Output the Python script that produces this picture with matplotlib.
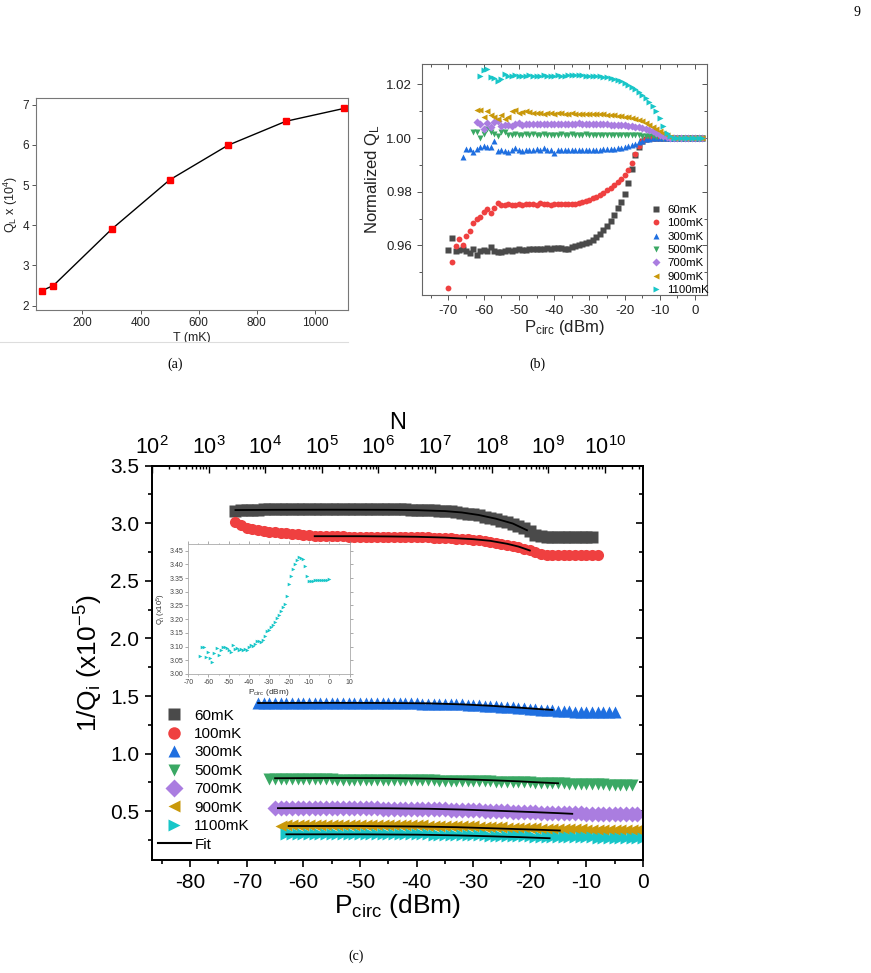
import numpy as np
import matplotlib
matplotlib.use('Agg')
import matplotlib.pyplot as plt
from matplotlib.ticker import MultipleLocator, LogLocator, NullFormatter, FormatStrFormatter
from matplotlib.lines import Line2D
from matplotlib.patches import Rectangle

plt.rcParams['font.family'] = ['Liberation Sans', 'DejaVu Sans']
plt.rcParams['mathtext.fontset'] = 'custom'
plt.rcParams['mathtext.rm'] = 'Liberation Sans'
plt.rcParams['mathtext.it'] = 'Liberation Sans:italic'
plt.rcParams['mathtext.default'] = 'regular'
plt.rcParams['axes.unicode_minus'] = False

# ---------------- data ----------------
# (a) loaded Q vs temperature
T_mK = [60, 100, 300, 500, 700, 900, 1100]
QL_1e4 = [2.37, 2.50, 3.90, 5.13, 5.99, 6.59, 6.91]

labels = ['60mK', '100mK', '300mK', '500mK', '700mK', '900mK', '1100mK']
colors = ['#4a4a4a', '#ef4040', '#1f6fe0', '#3aa864', '#aa7de0', '#c9980a', '#18c6c8']
markers = ['s', 'o', '^', 'v', 'D', '<', '>']

# (b) normalized QL vs Pcirc, first power of each sweep (1 dBm steps)
b_start = [-70, -70, -66, -63, -62, -62, -61]
b_60 = [0.9582, 0.9628, 0.9580, 0.9581, 0.9586, 0.9578, 0.9572, 0.9586, 0.9565, 0.9580,
        0.9583, 0.9580, 0.9593, 0.9580, 0.9575, 0.9576, 0.9580, 0.9582, 0.9580, 0.9582,
        0.9585, 0.9583, 0.9583, 0.9585, 0.9588, 0.9585, 0.9586, 0.9588, 0.9592, 0.9588,
        0.9590, 0.9590, 0.9589, 0.9588, 0.9587, 0.9594, 0.9598, 0.9601, 0.9604, 0.9607,
        0.9612, 0.9620, 0.9630, 0.9643, 0.9657, 0.9672, 0.9690, 0.9712, 0.9740, 0.9762,
        0.9790, 0.9832, 0.9885, 0.9935, 0.9965, 0.9988, 0.9998, 1.0000, 1.0000, 1.0000,
        1.0000, 1.0000, 1.0000, 1.0000, 1.0000, 1.0000, 1.0000, 1.0000, 1.0000, 1.0000,
        1.0000, 1.0000, 1.0000]
b_100 = [0.9440, 0.9537, 0.9598, 0.9623, 0.9600, 0.9636, 0.9654, 0.9685, 0.9697, 0.9705,
         0.9726, 0.9736, 0.9720, 0.9738, 0.9757, 0.9752, 0.9751, 0.9753, 0.9752, 0.9750,
         0.9753, 0.9752, 0.9754, 0.9755, 0.9753, 0.9751, 0.9757, 0.9755, 0.9753, 0.9752,
         0.9754, 0.9753, 0.9754, 0.9753, 0.9755, 0.9754, 0.9756, 0.9759, 0.9762, 0.9766,
         0.9770, 0.9775, 0.9781, 0.9788, 0.9796, 0.9805, 0.9815, 0.9825, 0.9835, 0.9848,
         0.9862, 0.9880, 0.9908, 0.9940, 0.9970, 0.9990, 0.9998, 1.0000, 1.0000, 1.0000,
         1.0000, 1.0000, 1.0000, 1.0000, 1.0000, 1.0000, 1.0000, 1.0000, 1.0000, 1.0000,
         1.0000, 1.0000, 1.0000]
b_300 = [0.9930, 0.9958, 0.9961, 0.9948, 0.9961, 0.9965, 0.9971, 0.9965, 0.9966, 0.9988,
         0.9952, 0.9957, 0.9953, 0.9947, 0.9955, 0.9962, 0.9955, 0.9952, 0.9956, 0.9954,
         0.9957, 0.9958, 0.9955, 0.9962, 0.9957, 0.9955, 0.9946, 0.9954, 0.9956, 0.9955,
         0.9954, 0.9956, 0.9955, 0.9956, 0.9957, 0.9955, 0.9956, 0.9957, 0.9956, 0.9957,
         0.9958, 0.9958, 0.9960, 0.9961, 0.9962, 0.9964, 0.9966, 0.9969, 0.9973, 0.9978,
         0.9984, 0.9990, 0.9995, 0.9998, 1.0000, 1.0000, 1.0000, 1.0000, 1.0000, 1.0000,
         1.0000, 1.0000, 1.0000, 1.0000, 1.0000, 1.0000, 1.0000, 1.0000, 1.0000]
b_500 = [1.0023, 1.0021, 1.0001, 1.0015, 1.0032, 1.0023, 1.0015, 1.0007, 1.0021, 1.0024,
         1.0010, 1.0012, 1.0016, 1.0010, 1.0013, 1.0014, 1.0012, 1.0015, 1.0013, 1.0012,
         1.0014, 1.0011, 1.0013, 1.0012, 1.0013, 1.0014, 1.0012, 1.0013, 1.0014, 1.0013,
         1.0012, 1.0013, 1.0014, 1.0013, 1.0013, 1.0012, 1.0013, 1.0013, 1.0012, 1.0013,
         1.0012, 1.0012, 1.0012, 1.0011, 1.0011, 1.0011, 1.0010, 1.0010, 1.0009, 1.0008,
         1.0007, 1.0006, 1.0004, 1.0003, 1.0002, 1.0001, 1.0000, 1.0000, 1.0000, 1.0000,
         1.0000, 1.0000, 1.0000, 1.0000, 1.0000, 1.0000]
b_700 = [1.0059, 1.0054, 1.0033, 1.0056, 1.0040, 1.0058, 1.0062, 1.0045, 1.0050, 1.0048,
         1.0046, 1.0052, 1.0055, 1.0050, 1.0053, 1.0052, 1.0054, 1.0053, 1.0052, 1.0054,
         1.0053, 1.0052, 1.0053, 1.0054, 1.0053, 1.0052, 1.0054, 1.0053, 1.0054, 1.0055,
         1.0054, 1.0053, 1.0054, 1.0053, 1.0053, 1.0052, 1.0052, 1.0051, 1.0050, 1.0050,
         1.0049, 1.0048, 1.0047, 1.0046, 1.0045, 1.0043, 1.0041, 1.0038, 1.0035, 1.0030,
         1.0025, 1.0019, 1.0013, 1.0007, 1.0003, 1.0000, 1.0000, 1.0000, 1.0000, 1.0000,
         1.0000, 1.0000, 1.0000, 1.0000, 1.0000]
b_900 = [1.0104, 1.0104, 1.0080, 1.0101, 1.0085, 1.0078, 1.0072, 1.0087, 1.0070, 1.0080,
         1.0100, 1.0104, 1.0095, 1.0098, 1.0100, 1.0096, 1.0094, 1.0092, 1.0093, 1.0090,
         1.0092, 1.0093, 1.0091, 1.0092, 1.0093, 1.0091, 1.0090, 1.0092, 1.0091, 1.0090,
         1.0091, 1.0090, 1.0091, 1.0090, 1.0089, 1.0089, 1.0088, 1.0087, 1.0086, 1.0085,
         1.0083, 1.0081, 1.0079, 1.0077, 1.0074, 1.0071, 1.0067, 1.0062, 1.0056, 1.0050,
         1.0043, 1.0035, 1.0026, 1.0018, 1.0010, 1.0004, 1.0000, 1.0000, 1.0000, 1.0000,
         1.0000, 1.0000, 1.0000, 1.0000, 1.0000]
b_1100 = [1.0230, 1.0255, 1.0258, 1.0229, 1.0223, 1.0214, 1.0220, 1.0237, 1.0232, 1.0230,
          1.0234, 1.0231, 1.0233, 1.0232, 1.0234, 1.0233, 1.0232, 1.0233, 1.0234, 1.0233,
          1.0232, 1.0233, 1.0234, 1.0233, 1.0233, 1.0234, 1.0235, 1.0234, 1.0235, 1.0234,
          1.0233, 1.0233, 1.0232, 1.0231, 1.0230, 1.0228, 1.0226, 1.0223, 1.0220, 1.0216,
          1.0211, 1.0205, 1.0198, 1.0190, 1.0181, 1.0172, 1.0162, 1.0150, 1.0136, 1.0120,
          1.0100, 1.0073, 1.0044, 1.0020, 1.0007, 1.0000, 1.0000, 1.0000, 1.0000, 1.0000,
          1.0000, 1.0000, 1.0000, 1.0000]
b_series = [b_60, b_100, b_300, b_500, b_700, b_900, b_1100]

# (c) 1/Qi (x1e-5) vs Pcirc, first power of each sweep (1 dBm steps)
c_start = [-72, -72, -68, -66, -65, -64, -63]
c_60 = [3.110, 3.114, 3.117, 3.118, 3.119, 3.120, 3.121, 3.122, 3.124, 3.125,
        3.126, 3.127, 3.128, 3.127, 3.126, 3.126, 3.125, 3.125, 3.126, 3.125,
        3.124, 3.124, 3.125, 3.124, 3.124, 3.123, 3.123, 3.122, 3.122, 3.121,
        3.120, 3.119, 3.118, 3.117, 3.115, 3.113, 3.110, 3.107, 3.103, 3.098,
        3.092, 3.085, 3.077, 3.068, 3.058, 3.047, 3.035, 3.022, 3.008, 2.993,
        2.977, 2.958, 2.935, 2.902, 2.888, 2.885, 2.884, 2.884, 2.883, 2.884,
        2.884, 2.883, 2.884, 2.884]
c_100 = [3.014, 2.982, 2.960, 2.948, 2.940, 2.933, 2.928, 2.923, 2.918, 2.913,
         2.908, 2.904, 2.900, 2.897, 2.894, 2.891, 2.889, 2.887, 2.886, 2.886,
         2.885, 2.885, 2.885, 2.885, 2.884, 2.884, 2.884, 2.883, 2.883, 2.882,
         2.881, 2.880, 2.879, 2.878, 2.877, 2.876, 2.874, 2.872, 2.870, 2.867,
         2.864, 2.860, 2.856, 2.851, 2.845, 2.838, 2.830, 2.822, 2.813, 2.803,
         2.792, 2.780, 2.767, 2.750, 2.735, 2.729, 2.727, 2.726, 2.726, 2.725,
         2.725, 2.726, 2.725, 2.725, 2.726]
c_300 = [1.437, 1.438, 1.437, 1.438, 1.438, 1.437, 1.438, 1.437, 1.438, 1.438,
         1.437, 1.438, 1.437, 1.437, 1.438, 1.437, 1.437, 1.438, 1.437, 1.437,
         1.438, 1.437, 1.437, 1.437, 1.437, 1.437, 1.436, 1.436, 1.436, 1.435,
         1.435, 1.434, 1.433, 1.432, 1.431, 1.429, 1.427, 1.425, 1.423, 1.420,
         1.417, 1.414, 1.411, 1.408, 1.405, 1.401, 1.397, 1.394, 1.390, 1.386,
         1.383, 1.380, 1.376, 1.372, 1.369, 1.367, 1.366, 1.366, 1.365, 1.365,
         1.365, 1.364, 1.365, 1.364]
c_500 = [0.780, 0.779, 0.779, 0.778, 0.778, 0.778, 0.777, 0.777, 0.777, 0.776,
         0.776, 0.776, 0.775, 0.775, 0.775, 0.774, 0.774, 0.774, 0.773, 0.773,
         0.772, 0.772, 0.771, 0.771, 0.770, 0.770, 0.769, 0.769, 0.768, 0.768,
         0.767, 0.766, 0.765, 0.765, 0.764, 0.763, 0.762, 0.761, 0.760, 0.759,
         0.758, 0.757, 0.756, 0.755, 0.753, 0.752, 0.750, 0.749, 0.748, 0.746,
         0.745, 0.743, 0.742, 0.740, 0.739, 0.738, 0.736, 0.735, 0.734, 0.733,
         0.732, 0.731, 0.730, 0.729, 0.728]
c_700 = [0.526, 0.527, 0.527, 0.528, 0.527, 0.527, 0.528, 0.527, 0.527, 0.527,
         0.526, 0.527, 0.527, 0.526, 0.526, 0.526, 0.525, 0.525, 0.525, 0.524,
         0.524, 0.523, 0.523, 0.522, 0.522, 0.521, 0.520, 0.519, 0.518, 0.517,
         0.516, 0.515, 0.513, 0.512, 0.510, 0.509, 0.507, 0.506, 0.504, 0.502,
         0.501, 0.499, 0.497, 0.496, 0.494, 0.492, 0.491, 0.489, 0.488, 0.486,
         0.485, 0.484, 0.483, 0.482, 0.481, 0.480, 0.479, 0.479, 0.478, 0.478,
         0.477, 0.477, 0.476, 0.476, 0.476]
c_900 = [0.376, 0.377, 0.377, 0.378, 0.378, 0.378, 0.379, 0.379, 0.379, 0.379,
         0.380, 0.380, 0.380, 0.380, 0.380, 0.380, 0.380, 0.380, 0.380, 0.379,
         0.379, 0.379, 0.378, 0.378, 0.377, 0.377, 0.376, 0.375, 0.374, 0.373,
         0.372, 0.371, 0.370, 0.369, 0.368, 0.366, 0.365, 0.364, 0.362, 0.361,
         0.359, 0.358, 0.356, 0.355, 0.353, 0.352, 0.350, 0.349, 0.348, 0.346,
         0.345, 0.344, 0.343, 0.342, 0.341, 0.340, 0.339, 0.338, 0.338, 0.337,
         0.337, 0.336, 0.336, 0.336, 0.335]
c_1100 = [0.300, 0.301, 0.301, 0.302, 0.302, 0.302, 0.303, 0.303, 0.303, 0.303,
          0.303, 0.303, 0.303, 0.303, 0.303, 0.302, 0.302, 0.302, 0.302, 0.301,
          0.301, 0.301, 0.300, 0.300, 0.299, 0.299, 0.298, 0.297, 0.297, 0.296,
          0.295, 0.294, 0.293, 0.292, 0.291, 0.290, 0.289, 0.288, 0.287, 0.286,
          0.285, 0.284, 0.283, 0.282, 0.281, 0.280, 0.279, 0.278, 0.277, 0.276,
          0.275, 0.274, 0.274, 0.273, 0.273, 0.272, 0.272, 0.271, 0.271, 0.271,
          0.270, 0.270, 0.270, 0.270]
c_series = [c_60, c_100, c_300, c_500, c_700, c_900, c_1100]

# (c) fit curves
fit_P = [[-72, -65, -55, -45, -40, -35, -32, -29, -26, -23, -20.5],
         [-58, -50, -45, -40, -35, -30, -27, -24, -22, -20],
         [-68, -55, -45, -38, -32, -27, -22, -18, -16],
         [-65, -55, -45, -38, -32, -27, -22, -18, -15],
         [-64.5, -55, -45, -38, -32, -26, -20, -15, -12.5],
         [-62.6, -50, -40, -33, -27, -22, -18, -14.7],
         [-63, -50, -40, -33, -27, -22, -16.5]]
fit_Q = [[3.115, 3.117, 3.118, 3.117, 3.114, 3.106, 3.094, 3.072, 3.040, 2.998, 2.940],
         [2.888, 2.888, 2.886, 2.883, 2.876, 2.862, 2.848, 2.822, 2.798, 2.764],
         [1.440, 1.441, 1.440, 1.437, 1.428, 1.416, 1.400, 1.386, 1.380],
         [0.787, 0.789, 0.788, 0.784, 0.778, 0.770, 0.760, 0.750, 0.743],
         [0.527, 0.528, 0.526, 0.522, 0.515, 0.505, 0.494, 0.484, 0.478],
         [0.372, 0.372, 0.368, 0.362, 0.353, 0.345, 0.339, 0.333],
         [0.300, 0.300, 0.297, 0.291, 0.283, 0.276, 0.266]]

# inset: Qi (x1e5) at 1100 mK
ins_start = -64
ins_Q = [3.067, 3.100, 3.100, 3.063, 3.079, 3.060, 3.044, 3.075, 3.094, 3.069,
         3.088, 3.097, 3.097, 3.094, 3.088, 3.082, 3.106, 3.090, 3.094, 3.088,
         3.092, 3.088, 3.090, 3.088, 3.100, 3.105, 3.103, 3.110, 3.122, 3.120,
         3.118, 3.125, 3.140, 3.155, 3.160, 3.170, 3.180, 3.190, 3.203, 3.215,
         3.228, 3.245, 3.255, 3.286, 3.328, 3.358, 3.382, 3.400, 3.414, 3.425,
         3.424, 3.418, 3.395, 3.359, 3.340, 3.340, 3.340, 3.341, 3.341, 3.341,
         3.342, 3.342, 3.343, 3.344, 3.346]

W, H = 871, 973


def box(l, t, r, b):
    return [l / W, 1 - b / H, (r - l) / W, (b - t) / H]


fig = plt.figure(figsize=(W / 100, H / 100), dpi=100)

# ---------------- (a) ----------------
axa = fig.add_axes(box(36, 98, 348, 310))
axa.plot(T_mK, QL_1e4, color='black', lw=1.0, marker='s', ms=4.5,
         mfc='#ff0000', mec='#ff0000')
axa.set_xlim(40, 1114)
axa.set_ylim(1.89, 7.17)
axa.xaxis.set_major_locator(MultipleLocator(200))
axa.yaxis.set_major_locator(MultipleLocator(1))
for s in axa.spines.values():
    s.set_color('#777777')
    s.set_linewidth(0.8)
axa.tick_params(labelsize=8.5, colors='#555555', labelcolor='#222222', length=3, width=0.7,
                pad=2)
axa.set_xlabel('T (mK)', fontsize=9, labelpad=2, color='#222222')
axa.set_ylabel('Q$_L$ x (10$^4$)', fontsize=9, labelpad=2, color='#222222')
# crop edge of the sub-image
fig.add_artist(Rectangle((0, 1 - 356 / H), 360 / W, 14 / H, transform=fig.transFigure,
                         facecolor='white', edgecolor='none', zorder=5))
fig.add_artist(Line2D([0, 348 / W], [1 - 342 / H, 1 - 342 / H], transform=fig.transFigure,
                      color='#dddddd', lw=0.8, zorder=6))

# ---------------- (b) ----------------
axb = fig.add_axes(box(421.7, 64, 706.7, 295))
for ys, x0, lab, c, m in zip(b_series, b_start, labels, colors, markers):
    xs = np.arange(x0, x0 + len(ys))
    axb.plot(xs, ys, ls='none', marker=m, ms=4.2, color=c, mec='none', label=lab)
axb.set_xlim(-77.6, 3.3)
axb.set_ylim(0.9415, 1.0276)
axb.xaxis.set_major_locator(MultipleLocator(10))
axb.xaxis.set_minor_locator(MultipleLocator(5))
axb.yaxis.set_major_locator(MultipleLocator(0.02))
axb.yaxis.set_minor_locator(MultipleLocator(0.01))
axb.yaxis.set_major_formatter(FormatStrFormatter('%.2f'))
for s in axb.spines.values():
    s.set_color('#666666')
    s.set_linewidth(0.8)
axb.tick_params(which='both', labelsize=9.5, colors='#555555', labelcolor='#222222', width=0.7)
axb.tick_params(which='major', length=3.5)
axb.tick_params(which='minor', length=2)
for sec in (axb.secondary_xaxis('top'), axb.secondary_yaxis('right')):
    sec.tick_params(which='both', direction='in', colors='#555555', width=0.7)
    sec.tick_params(which='major', length=3.5)
    sec.tick_params(which='minor', length=2)
    ax_ = sec.xaxis if sec._orientation == 'x' else sec.yaxis
    ax_.set_major_formatter(NullFormatter())
    if sec._orientation == 'x':
        ax_.set_major_locator(MultipleLocator(10))
        ax_.set_minor_locator(MultipleLocator(5))
    else:
        ax_.set_major_locator(MultipleLocator(0.02))
        ax_.set_minor_locator(MultipleLocator(0.01))
    sec.spines[:].set_visible(False)
axb.set_xlabel('P$_{circ}$ (dBm)', fontsize=12, labelpad=1, color='#222222')
axb.set_ylabel('Normalized Q$_L$', fontsize=12, labelpad=3, color='#222222')
axb.legend(loc='upper left', bbox_to_anchor=(645 / W, 1 - 199 / H),
           bbox_transform=fig.transFigure, frameon=False, fontsize=8.2,
           handlelength=1.0, handletextpad=0.45, labelspacing=0.3, borderpad=0,
           markerscale=1.0)

# ---------------- (c) ----------------
axc = fig.add_axes(box(151.7, 465.7, 643, 860))
for ys, x0, c, m in zip(c_series, c_start, colors, markers):
    xs = np.arange(x0, x0 + len(ys))
    axc.plot(xs, ys, ls='none', marker=m, ms=8.0, color=c, mec='none', zorder=2)
for fp, fq in zip(fit_P, fit_Q):
    axc.plot(fp, fq, color='black', lw=1.3, zorder=3)
axc.set_xlim(-86.8, 0)
axc.set_ylim(0.077, 3.5)
axc.xaxis.set_major_locator(MultipleLocator(10))
axc.xaxis.set_minor_locator(MultipleLocator(5))
axc.yaxis.set_major_locator(MultipleLocator(0.5))
axc.yaxis.set_minor_locator(MultipleLocator(0.25))
axc.yaxis.set_major_formatter(FormatStrFormatter('%.1f'))
for s in axc.spines.values():
    s.set_linewidth(1.3)
axc.tick_params(which='both', labelsize=15, width=1.2, pad=4)
axc.tick_params(which='major', length=5)
axc.tick_params(which='minor', length=3)
axc.set_xlabel('P$_{circ}$ (dBm)', fontsize=19, labelpad=0)
axc.set_ylabel('1/Q$_i$ (x10$^{-5}$)', fontsize=19, labelpad=4)

secr = axc.secondary_yaxis('right')
secr.yaxis.set_major_locator(MultipleLocator(0.5))
secr.yaxis.set_minor_locator(MultipleLocator(0.25))
secr.yaxis.set_major_formatter(NullFormatter())
secr.tick_params(which='both', direction='in', width=1.2)
secr.tick_params(which='major', length=5)
secr.tick_params(which='minor', length=3)
secr.spines[:].set_visible(False)

# photon number axis
N_offset = 106.75
axN = axc.twiny()
axN.set_xscale('log')
p0, p1 = axc.get_xlim()
axN.set_xlim(10 ** ((p0 + N_offset) / 10), 10 ** ((p1 + N_offset) / 10))
axN.xaxis.set_major_locator(LogLocator(base=10, numticks=20))
axN.xaxis.set_minor_locator(LogLocator(base=10, subs=np.arange(2, 10), numticks=100))
axN.xaxis.set_minor_formatter(NullFormatter())
axN.tick_params(which='both', direction='in', labelsize=15.5, width=1.0, pad=5)
axN.tick_params(which='major', length=5)
axN.tick_params(which='minor', length=2.5)
axN.set_xlabel('N', fontsize=17, labelpad=5)
for s in axN.spines.values():
    s.set_linewidth(1.3)

handles = [Line2D([], [], ls='none', marker=m, ms=9, color=c, mec='none')
           for c, m in zip(colors, markers)]
handles.append(Line2D([], [], color='black', lw=1.5))
axc.legend(handles, labels + ['Fit'], loc='upper left',
           bbox_to_anchor=(150 / W, 1 - 701 / H), bbox_transform=fig.transFigure,
           frameon=False, fontsize=11, handlelength=2.2, handletextpad=0.2,
           labelspacing=0.29, borderpad=0)

# inset
axi = fig.add_axes(box(188.3, 544, 349.5, 674))
axi.plot(np.arange(ins_start, ins_start + len(ins_Q)), ins_Q, ls='none', marker='>',
         ms=2.6, color='#18c6c8', mec='none')
axi.set_xlim(-70, 10)
axi.set_ylim(3.0, 3.474)
axi.xaxis.set_major_locator(MultipleLocator(10))
axi.xaxis.set_minor_locator(MultipleLocator(5))
axi.yaxis.set_major_locator(MultipleLocator(0.05))
axi.yaxis.set_major_formatter(FormatStrFormatter('%.2f'))
for s in axi.spines.values():
    s.set_color('#aaaaaa')
    s.set_linewidth(0.6)
axi.tick_params(which='both', labelsize=5, colors='#888888', labelcolor='#444444',
                width=0.5, pad=1.5, top=True, right=True)
axi.tick_params(which='major', length=2)
axi.tick_params(which='minor', length=1)
axi.set_xlabel('P$_{circ}$ (dBm)', fontsize=6, labelpad=0.5, color='#333333')
axi.set_ylabel('Q$_i$ (x10$^5$)', fontsize=5.5, labelpad=1, color='#333333')

# panel captions
fig.text(175 / W, 1 - 364 / H, '(a)', ha='center', va='center', fontsize=10,
         family=['Liberation Serif', 'DejaVu Serif'])
fig.text(537 / W, 1 - 364 / H, '(b)', ha='center', va='center', fontsize=10,
         family=['Liberation Serif', 'DejaVu Serif'])
fig.text(356 / W, 1 - 956 / H, '(c)', ha='center', va='center', fontsize=10,
         family=['Liberation Serif', 'DejaVu Serif'])
fig.text(857 / W, 1 - 12 / H, '9', ha='center', va='center', fontsize=10,
         family=['Liberation Serif', 'DejaVu Serif'])

fig.savefig('out.png', dpi=100)
